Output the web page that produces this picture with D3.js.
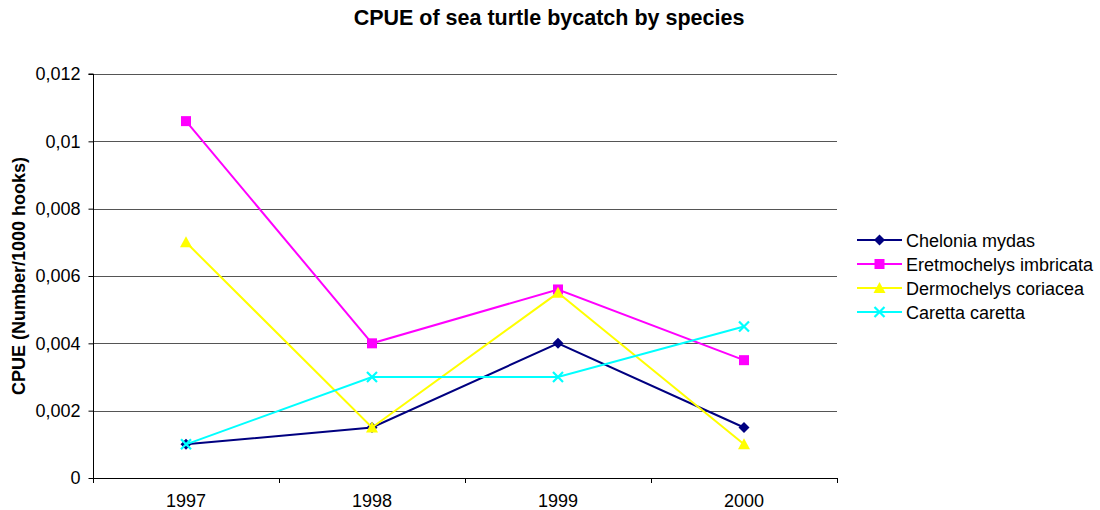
<!DOCTYPE html>
<html>
<head>
<meta charset="utf-8">
<script src="https://cdn.jsdelivr.net/npm/d3@7"></script>
<style>
  body { margin: 0; background: #fff; }
  text { font-family: Arial, "Liberation Sans", sans-serif; }
</style>
</head>
<body>
<script>
// data
const years = ["1997", "1998", "1999", "2000"];
const yTicks = [0, 0.002, 0.004, 0.006, 0.008, 0.01, 0.012];
const speciesNames = ["Chelonia mydas", "Eretmochelys imbricata", "Dermochelys coriacea", "Caretta caretta"];
const chelonia = [0.001, 0.0015, 0.004, 0.0015];
const eretmochelys = [0.0106, 0.004, 0.0056, 0.0035];
const dermochelys = [0.007, 0.0015, 0.0055, 0.001];
const caretta = [0.001, 0.003, 0.003, 0.0045];

const colors = ["#000080", "#ff00ff", "#ffff00", "#00ffff"];
const symbols = ["diamond", "square", "triangle", "cross"];

const series = speciesNames.map((name, i) => ({
    name: name,
    values: [chelonia, eretmochelys, dermochelys, caretta][i],
    color: colors[i],
    symbol: symbols[i]
}));

const width = 1100;
const height = 510;
const margin = {left: 93, right: 263, top: 74, bottom: 32};

const svg = d3.select("body")
    .append("svg")
    .attr("width", width)
    .attr("height", height);

const x = d3.scaleBand()
    .domain(years)
    .range([margin.left, width - margin.right]);

const y = d3.scaleLinear()
    .domain([0, 0.012])
    .range([height - margin.bottom, margin.top]);

// title
svg.append("text")
    .attr("x", 549)
    .attr("y", 25)
    .attr("text-anchor", "middle")
    .attr("font-size", 21.5)
    .attr("font-weight", "bold")
    .text("CPUE of sea turtle bycatch by species");

// gridlines
svg.append("g")
    .selectAll("line")
    .data(yTicks.slice(1))
    .join("line")
    .attr("x1", margin.left)
    .attr("x2", width - margin.right)
    .attr("y1", d => Math.round(y(d)) + 0.5)
    .attr("y2", d => Math.round(y(d)) + 0.5)
    .attr("stroke", "#555")
    .attr("stroke-width", 1);

// y axis
const yAxis = svg.append("g")
    .attr("transform", `translate(${margin.left + 0.5},0)`)
    .call(d3.axisLeft(y)
        .tickValues(yTicks)
        .tickSize(5)
        .tickPadding(8)
        .tickFormat(d => d === 0 ? "0" : String(+d.toFixed(3)).replace(".", ",")));
yAxis.select(".domain").attr("stroke", "#000").attr("d", `M-5,${y(0.012)}H0V${y(0)}`);
yAxis.selectAll(".tick line").attr("stroke", "#000");
yAxis.selectAll(".tick text").attr("font-size", 18).attr("fill", "#000")
    .attr("font-family", "Arial, 'Liberation Sans', sans-serif");

// x axis
const xTickPos = [margin.left].concat(years.map(yr => x(yr) + x.bandwidth()));
const xg = svg.append("g");
xg.append("line")
    .attr("x1", margin.left)
    .attr("x2", width - margin.right)
    .attr("y1", Math.round(y(0)) + 0.5)
    .attr("y2", Math.round(y(0)) + 0.5)
    .attr("stroke", "#000");
xg.selectAll(".xt")
    .data(xTickPos)
    .join("line")
    .attr("class", "xt")
    .attr("x1", d => Math.round(d) + 0.5)
    .attr("x2", d => Math.round(d) + 0.5)
    .attr("y1", y(0))
    .attr("y2", y(0) + 5)
    .attr("stroke", "#000");
xg.selectAll("text")
    .data(years)
    .join("text")
    .attr("x", d => x(d) + x.bandwidth() / 2)
    .attr("y", 507)
    .attr("text-anchor", "middle")
    .attr("font-size", 18)
    .text(d => d);

// y label
svg.append("text")
    .attr("transform", `translate(25,${(y(0) + y(0.012)) / 2}) rotate(-90)`)
    .attr("text-anchor", "middle")
    .attr("font-size", 18)
    .attr("font-weight", "bold")
    .text("CPUE (Number/1000 hooks)");

// marker drawing
function drawMarker(g, type, color, cx, cy) {
    if (type === "diamond") {
        g.append("path")
            .attr("d", `M${cx},${cy - 5.5}L${cx + 5.5},${cy}L${cx},${cy + 5.5}L${cx - 5.5},${cy}Z`)
            .attr("fill", color);
    } else if (type === "square") {
        g.append("rect")
            .attr("x", cx - 5).attr("y", cy - 5)
            .attr("width", 10).attr("height", 10)
            .attr("fill", color);
    } else if (type === "triangle") {
        g.append("path")
            .attr("d", `M${cx},${cy - 6}L${cx + 6},${cy + 5}L${cx - 6},${cy + 5}Z`)
            .attr("fill", color);
    } else {
        g.append("path")
            .attr("d", `M${cx - 5},${cy - 5}L${cx + 5},${cy + 5}M${cx + 5},${cy - 5}L${cx - 5},${cy + 5}`)
            .attr("stroke", color)
            .attr("stroke-width", 2.2)
            .attr("fill", "none");
    }
}

const line = d3.line()
    .x((d, i) => x(years[i]) + x.bandwidth() / 2)
    .y(d => y(d));

series.forEach(s => {
    const g = svg.append("g");
    g.append("path")
        .datum(s.values)
        .attr("d", line)
        .attr("fill", "none")
        .attr("stroke", s.color)
        .attr("stroke-width", 2);
    s.values.forEach((v, i) => {
        drawMarker(g, s.symbol, s.color, x(years[i]) + x.bandwidth() / 2, y(v));
    });
});

// legend
const legend = svg.append("g");
series.forEach((s, i) => {
    const ly = 240 + i * 24;
    const g = legend.append("g");
    g.append("line")
        .attr("x1", 857).attr("x2", 902)
        .attr("y1", ly).attr("y2", ly)
        .attr("stroke", s.color)
        .attr("stroke-width", 2);
    drawMarker(g, s.symbol, s.color, 879.5, ly);
    g.append("text")
        .attr("x", 906)
        .attr("y", ly + 6.5)
        .attr("font-size", 18)
        .text(s.name);
});
</script>
</body>
</html>
